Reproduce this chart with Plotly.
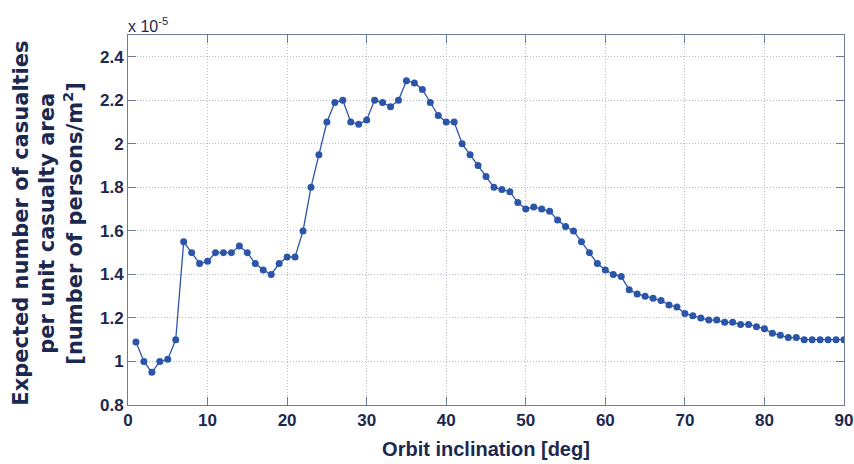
import plotly.graph_objects as go

inclination = list(range(1, 91))
casualties = [
    1.09, 1.00, 0.95, 1.00, 1.01, 1.10, 1.55, 1.50, 1.45, 1.46,
    1.50, 1.50, 1.50, 1.53, 1.50, 1.45, 1.42, 1.40, 1.45, 1.48,
    1.48, 1.60, 1.80, 1.95, 2.10, 2.19, 2.20, 2.10, 2.09, 2.11,
    2.20, 2.19, 2.17, 2.20, 2.29, 2.28, 2.25, 2.19, 2.13, 2.10,
    2.10, 2.00, 1.95, 1.90, 1.85, 1.80, 1.79, 1.78, 1.73, 1.70,
    1.71, 1.70, 1.69, 1.65, 1.62, 1.60, 1.55, 1.50, 1.45, 1.42,
    1.40, 1.39, 1.33, 1.31, 1.30, 1.29, 1.28, 1.26, 1.25, 1.22,
    1.21, 1.20, 1.19, 1.19, 1.18, 1.18, 1.17, 1.17, 1.16, 1.15,
    1.13, 1.12, 1.11, 1.11, 1.10, 1.10, 1.10, 1.10, 1.10, 1.10,
]
x_ticks = [0, 10, 20, 30, 40, 50, 60, 70, 80, 90]
y_ticks = [0.8, 1.0, 1.2, 1.4, 1.6, 1.8, 2.0, 2.2, 2.4]
y_ticktext = ["0.8", "1", "1.2", "1.4", "1.6", "1.8", "2", "2.2", "2.4"]
y_title_lines = [
    "Expected number of casualties",
    "per unit casualty area",
    "[number of persons/m<sup>2</sup>]",
]

navy = "#1b2850"
axis_col = "#6f7b9a"
grid_col = "#b3bacb"
line_col = "#2b55a8"
font_family = "Liberation Sans, Arial, sans-serif"
title_family = "DejaVu Sans, Liberation Sans, sans-serif"

fig = go.Figure()
fig.add_trace(go.Scatter(
    x=inclination, y=casualties, mode="lines+markers",
    line=dict(color=line_col, width=1.3),
    marker=dict(color=line_col, size=7),
    showlegend=False,
))

fig.update_layout(
    width=854, height=464,
    margin=dict(l=128, r=10, t=35, b=59),
    paper_bgcolor="white", plot_bgcolor="white",
    font=dict(family=font_family, color=navy),
)
common = dict(
    ticks="inside", ticklen=8, tickcolor=axis_col, showline=True,
    linecolor=axis_col, linewidth=1, mirror="ticks", showgrid=True,
    gridcolor=grid_col, griddash="1px,2px", gridwidth=1, zeroline=False,
    automargin=False,
    tickfont=dict(size=17, family=font_family, color=navy, weight="bold"),
)
fig.update_xaxes(
    range=[0, 90], tickvals=x_ticks,
    title=dict(text="<b>Orbit inclination [deg]</b>",
               font=dict(size=20, color=navy), standoff=12),
    **common,
)
fig.update_yaxes(
    range=[0.8, 2.5], tickvals=y_ticks, ticktext=y_ticktext,
    **common,
)
# y-axis title drawn as three rotated lines for tight line spacing
for i, (line_text, px) in enumerate(zip(y_title_lines, [21, 47, 73])):
    fig.add_annotation(
        xref="paper", yref="paper", x=(px - 128) / 716, y=0.49,
        text="<b>" + line_text + "</b>",
        textangle=-90, showarrow=False,
        font=dict(size=21, color=navy, family=title_family),
        xanchor="center", yanchor="middle", align="center",
    )
fig.add_annotation(
    xref="paper", yref="paper", x=0.0, y=1.0, xanchor="left", yanchor="bottom",
    text="x 10<sup>-5</sup>", showarrow=False,
    font=dict(size=16, color=navy, family=font_family),
    yshift=-2, xshift=-2,
)
fig.write_html("out.html")
